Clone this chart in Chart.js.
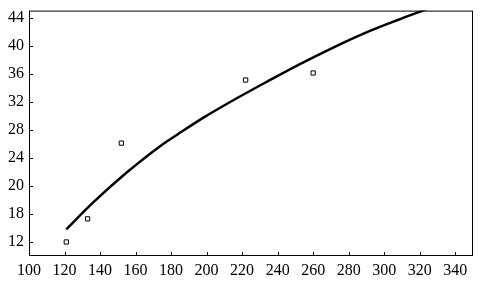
<!DOCTYPE html>
<html>
<head>
<meta charset="UTF-8">
<title>Fit</title>
<style>
  html, body { margin: 0; padding: 0; background: #fff; overflow: hidden; }
  #wrap { width: 485px; height: 283px; overflow: hidden; position: relative; }
  #chart { position: absolute; left: 0; top: -4px; }
</style>
</head>
<body>
<div id="wrap"><canvas id="chart" width="485" height="287"></canvas></div>
<script src="https://cdn.jsdelivr.net/npm/chart.js@4/dist/chart.umd.min.js"></script>
<script>
// measured points
const obsX = [121, 133, 152, 222, 260];
const obsY = [12, 15.3, 26.1, 35.1, 36.1];

// fitted curve
const fitX = [121, 136, 155, 174, 184, 198, 217, 235, 252, 271, 290, 308, 324];
const fitY = [13.8, 17.6, 21.9, 25.7, 27.4, 29.7, 32.5, 35.0, 37.3, 39.7, 41.9, 43.7, 45.2];

// axis ticks
const xTicks = [100, 120, 140, 160, 180, 200, 220, 240, 260, 280, 300, 320, 340];
const yTicks = [12, 16, 20, 24, 28, 32, 36, 40, 44];
const yTickLabels = ['12', '18', '20', '24', '28', '32', '36', '40', '44'];

const font = { family: "'Liberation Serif', serif", size: 16 };

// box around the plot + short inward tick marks
const frame = {
  id: 'frame',
  afterDraw(chart) {
    const ctx = chart.ctx, a = chart.chartArea;
    const xs = chart.scales.x, ys = chart.scales.y;
    ctx.save();
    ctx.strokeStyle = '#000';
    ctx.lineWidth = 1;
    ctx.strokeRect(a.left + 0.5, a.top + 0.5, a.right - a.left - 1, a.bottom - a.top - 1);
    ctx.beginPath();
    xs.ticks.forEach((t, i) => {
      const px = Math.round(xs.getPixelForTick(i)) + 0.5;
      ctx.moveTo(px, a.bottom);
      ctx.lineTo(px, a.bottom - 4);
    });
    ys.ticks.forEach((t, i) => {
      const py = Math.round(ys.getPixelForTick(i)) + 0.5;
      ctx.moveTo(a.left, py);
      ctx.lineTo(a.left + 4, py);
    });
    ctx.stroke();
    ctx.restore();
  }
};

new Chart(document.getElementById('chart'), {
  type: 'scatter',
  data: {
    datasets: [
      {
        label: 'fit',
        type: 'line',
        data: fitX.map((x, i) => ({ x: x, y: fitY[i] })),
        borderColor: '#000',
        borderWidth: 2.5,
        pointRadius: 0,
        fill: false,
        cubicInterpolationMode: 'monotone'
      },
      {
        label: 'data',
        data: obsX.map((x, i) => ({ x: x, y: obsY[i] })),
        pointStyle: 'rect',
        pointRadius: 3,
        borderColor: '#000',
        borderWidth: 1,
        backgroundColor: '#fff'
      }
    ]
  },
  options: {
    responsive: false,
    animation: false,
    layout: { padding: { top: 5, right: 12, left: 0, bottom: 0 } },
    plugins: { legend: { display: false }, tooltip: { enabled: false } },
    scales: {
      x: {
        type: 'linear',
        min: 100,
        max: 350,
        afterBuildTicks: axis => { axis.ticks = xTicks.map(v => ({ value: v })); },
        afterFit: axis => { axis.height = 27; },
        grid: { display: false, drawTicks: false, tickLength: 0 },
        border: { display: false },
        ticks: { color: '#000', font: font, padding: 5, maxRotation: 0, autoSkip: false }
      },
      y: {
        min: 10,
        max: 45,
        afterBuildTicks: axis => { axis.ticks = yTicks.map(v => ({ value: v })); },
        afterFit: axis => { axis.width = 29; },
        grid: { display: false, drawTicks: false, tickLength: 0 },
        border: { display: false },
        ticks: {
          color: '#000', font: font, padding: 5, autoSkip: false,
          callback: (v) => yTickLabels[yTicks.indexOf(v)]
        }
      }
    }
  },
  plugins: [frame]
});
</script>
</body>
</html>
